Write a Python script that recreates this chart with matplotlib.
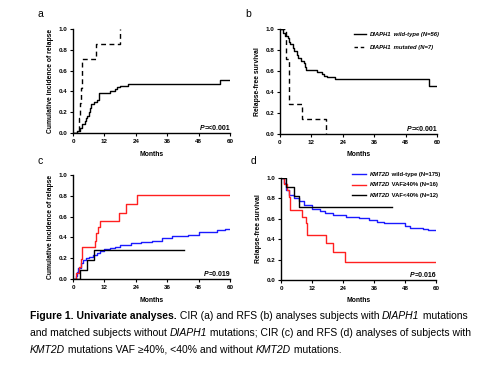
import matplotlib
matplotlib.use("Agg")
import matplotlib.pyplot as plt

plt.rcParams['font.family'] = ['Liberation Sans', 'DejaVu Sans']

# ---------------- data ----------------
months_ticks = [0, 12, 24, 36, 48, 60]
y_ticks = [0.0, 0.2, 0.4, 0.6, 0.8, 1.0]

# Panel a: CIR, DIAPH1
a_wt_t = [0, 1.5, 2.5, 3.5, 4.5, 5.0, 5.5, 6.0, 6.5, 7.0, 8.0, 9.0, 10.0, 14.0, 16.0, 17.0, 18.0, 21.0, 56.0, 60.0]
a_wt_v = [0, 0.02, 0.05, 0.09, 0.12, 0.14, 0.16, 0.20, 0.24, 0.28, 0.30, 0.32, 0.38, 0.40, 0.42, 0.44, 0.45, 0.47, 0.51, 0.51]
a_mu_t = [0, 2.3, 2.7, 3.0, 3.6, 8.9, 18.1]
a_mu_v = [0, 0.14, 0.29, 0.43, 0.71, 0.857, 1.0]

# Panel b: RFS, DIAPH1
b_wt_t = [0, 1.0, 2.0, 3.0, 3.5, 4.0, 5.0, 5.5, 6.5, 7.0, 8.0, 9.0, 9.5, 10.0, 14.0, 16.0, 17.0, 18.0, 21.0, 57.0, 60.0]
b_wt_v = [1.0, 0.96, 0.93, 0.91, 0.88, 0.86, 0.82, 0.79, 0.75, 0.72, 0.70, 0.68, 0.64, 0.61, 0.59, 0.57, 0.55, 0.54, 0.52, 0.46, 0.46]
b_mu_t = [0, 2.3, 3.6, 8.3, 17.6]
b_mu_v = [1.0, 0.71, 0.286, 0.143, 0.0]

# Panel c: CIR, KMT2D
c_wt_t = [0, 1.0, 1.5, 2.0, 3.0, 4.0, 5.0, 6.0, 7.5, 9.0, 10.5, 12.0, 14.0, 16.0, 18.0, 22.0, 26.0, 30.0, 34.0, 38.0, 44.0, 48.0, 55.0, 58.0, 60.0]
c_wt_v = [0, 0.03, 0.07, 0.11, 0.15, 0.18, 0.20, 0.21, 0.23, 0.25, 0.27, 0.29, 0.30, 0.31, 0.33, 0.35, 0.36, 0.37, 0.39, 0.41, 0.42, 0.45, 0.47, 0.48, 0.48]
c_hi_t = [0, 1.0, 2.2, 3.0, 3.6, 8.3, 8.9, 9.6, 10.2, 17.6, 20.2, 24.6, 60.0]
c_hi_v = [0, 0.06, 0.12, 0.19, 0.31, 0.37, 0.44, 0.50, 0.56, 0.63, 0.72, 0.81, 0.81]
c_lo_t = [0, 2.5, 5.5, 7.9, 42.5]
c_lo_v = [0, 0.09, 0.18, 0.28, 0.28]

# Panel d: RFS, KMT2D
d_wt_t = [0, 1.0, 2.0, 3.0, 5.0, 7.0, 9.0, 12.0, 15.0, 17.0, 20.0, 25.0, 30.0, 34.0, 37.0, 40.0, 48.0, 50.0, 55.0, 57.0, 60.0]
d_wt_v = [1.0, 0.95, 0.88, 0.83, 0.80, 0.77, 0.74, 0.70, 0.68, 0.66, 0.64, 0.62, 0.61, 0.59, 0.57, 0.56, 0.53, 0.51, 0.50, 0.49, 0.49]
d_hi_t = [0, 1.0, 2.2, 3.0, 3.6, 8.3, 9.6, 10.2, 17.6, 20.2, 24.6, 60.0]
d_hi_v = [1.0, 0.94, 0.88, 0.81, 0.69, 0.62, 0.56, 0.44, 0.36, 0.27, 0.18, 0.18]
d_lo_t = [0, 1.9, 4.9, 7.1, 42.9]
d_lo_v = [1.0, 0.91, 0.82, 0.72, 0.72]

p_values = ["=<0.001", "=<0.001", "=0.019", "=0.016"]
panel_letters = ["a", "b", "c", "d"]
ylabels = ["Cumulative incidence of relapse", "Relapse-free survival",
           "Cumulative incidence of relapse", "Relapse-free survival"]
legend_b = [("DIAPH1", " wild-type (N=56)"), ("DIAPH1", " mutated (N=7)")]
legend_d = [("KMT2D", " wild-type (N=175)"), ("KMT2D", " VAF\u226540% (N=16)"), ("KMT2D", " VAF<40% (N=12)")]

# ---------------- figure ----------------
W, H = 500, 372
fig = plt.figure(figsize=(W / 100, H / 100), dpi=100)
renderer = fig.canvas.get_renderer()


def fx(px):
    return px / W


def fy(py):
    return 1 - py / H


def segments(x, y, segs, size, ha='left'):
    """draw consecutive text segments at figure coords (x,y baseline)."""
    texts = []
    total = 0
    for s, style, weight in segs:
        t = fig.text(x, y, s, fontsize=size, style=style, fontweight=weight, va='baseline')
        texts.append(t)
        bb = t.get_window_extent(renderer)
        total += bb.width
    if ha == 'right':
        start = x - total / W
    else:
        start = x
    cur = start
    for t in texts:
        t.set_x(cur)
        bb = t.get_window_extent(renderer)
        cur += bb.width / W
    return texts


def make_axes(rect):
    ax = fig.add_axes(rect)
    ax.set_xlim(0, 60)
    ax.set_ylim(0, 1.0)
    ax.set_xticks(months_ticks)
    ax.set_yticks(y_ticks)
    ax.set_yticklabels([f"{v:.1f}" for v in y_ticks])
    for s in ['top', 'right']:
        ax.spines[s].set_visible(False)
    for s in ['left', 'bottom']:
        ax.spines[s].set_linewidth(1.0)
    ax.tick_params(labelsize=4.5, width=0.8, length=2.5, pad=1.5)
    for lab in ax.get_xticklabels() + ax.get_yticklabels():
        lab.set_fontweight('bold')
    ax.set_xlabel("Months", fontsize=4.9, fontweight='bold', labelpad=5)
    return ax


rects = [
    (fx(73), fy(133), fx(157), 104 / H),
    (fx(280), fy(134), fx(157), 105 / H),
    (fx(73), fy(279), fx(157), 104 / H),
    (fx(281), fy(280), fx(155), 102 / H),
]
axes = [make_axes(r) for r in rects]
for ax, lab in zip(axes, ylabels):
    ax.set_ylabel(lab, fontsize=4.9, fontweight='bold', labelpad=3)

lw = 1.0
ax = axes[0]
ax.step(a_wt_t, a_wt_v, where='post', color='black', lw=lw)
ax.step(a_mu_t, a_mu_v, where='post', color='black', lw=lw, linestyle=(0, (3.5, 2.5)))

ax = axes[1]
ax.step(b_wt_t, b_wt_v, where='post', color='black', lw=lw, label='wt')
ax.step(b_mu_t, b_mu_v, where='post', color='black', lw=lw, linestyle=(0, (3.5, 2.5)), label='mu')

ax = axes[2]
ax.step(c_wt_t, c_wt_v, where='post', color='#1a1aff', lw=lw)
ax.step(c_hi_t, c_hi_v, where='post', color='#ff2020', lw=lw)
ax.step(c_lo_t, c_lo_v, where='post', color='black', lw=lw)

ax = axes[3]
ax.step(d_wt_t, d_wt_v, where='post', color='#1a1aff', lw=lw)
ax.step(d_hi_t, d_hi_v, where='post', color='#ff2020', lw=lw)
ax.step(d_lo_t, d_lo_v, where='post', color='black', lw=lw)

# P values
p_pos = [(230, 130), (437, 131), (230, 276), (436, 277)]
for (px, py), pv in zip(p_pos, p_values):
    segments(fx(px), fy(py), [("P", 'italic', 'bold'), (pv, 'normal', 'bold')], 5.0, ha='right')

# panel letters
for (px, py), l in zip([(38, 17), (245, 17), (38, 164), (251, 164)], panel_letters):
    fig.text(fx(px), fy(py), l, fontsize=7.5, va='baseline')

# legends
from matplotlib.lines import Line2D
leg_b_y = [34, 47]
leg_b_styles = ['-', (0, (2.5, 2.0))]
for (g, rest), yy, ls in zip(legend_b, leg_b_y, leg_b_styles):
    fig.add_artist(Line2D([fx(354), fx(366)], [fy(yy), fy(yy)], color='black', lw=1.0, linestyle=ls))
    segments(fx(370), fy(yy + 1.7), [(g, 'italic', 'bold'), (rest, 'italic', 'bold')], 4.2)

leg_d_y = [174, 184.5, 195]
leg_d_cols = ['#1a1aff', '#ff2020', 'black']
for (g, rest), yy, c in zip(legend_d, leg_d_y, leg_d_cols):
    fig.add_artist(Line2D([fx(352), fx(366)], [fy(yy), fy(yy)], color=c, lw=1.0))
    segments(fx(370), fy(yy + 1.7), [(g, 'italic', 'bold'), (rest, 'normal', 'bold')], 4.2)

# caption
cap_size = 7.45
segments(fx(30), fy(319), [("Figure 1. Univariate analyses.", 'normal', 'bold'),
                           (" CIR (a) and RFS (b) analyses subjects with ", 'normal', 'normal'),
                           ("DIAPH1", 'italic', 'normal'),
                           (" mutations", 'normal', 'normal')], cap_size)
segments(fx(30), fy(336), [("and matched subjects without ", 'normal', 'normal'),
                           ("DIAPH1", 'italic', 'normal'),
                           (" mutations; CIR (c) and RFS (d) analyses of subjects with", 'normal', 'normal')], cap_size)
segments(fx(30), fy(353), [("KMT2D", 'italic', 'normal'),
                           (" mutations VAF \u226540%, <40% and without ", 'normal', 'normal'),
                           ("KMT2D", 'italic', 'normal'),
                           (" mutations.", 'normal', 'normal')], cap_size)

fig.savefig("out.png", dpi=100)
